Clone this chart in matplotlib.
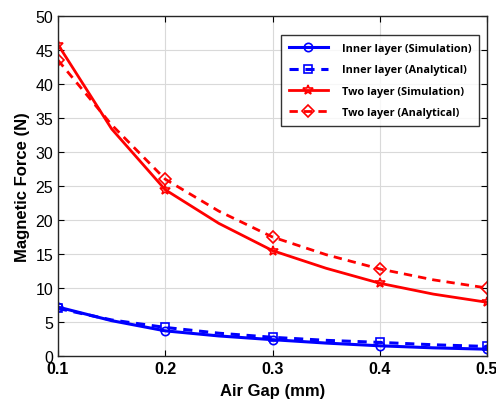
import numpy as np
import matplotlib.pyplot as plt

# air gap (mm); markers sit on the even indices (0.1 ... 0.5)
gap = [0.10, 0.15, 0.20, 0.25, 0.30, 0.35, 0.40, 0.45, 0.50]

inner_sim = [7.2, 5.2, 3.7, 2.95, 2.4, 1.9, 1.5, 1.2, 1.0]
inner_ana = [7.0, 5.3, 4.2, 3.35, 2.75, 2.3, 2.0, 1.65, 1.4]
two_sim = [45.8, 33.4, 24.45, 19.5, 15.5, 12.9, 10.7, 9.1, 7.9]
two_ana = [43.5, 34.0, 26.0, 21.3, 17.5, 14.9, 12.8, 11.2, 10.0]

labels = ['Inner layer (Simulation)', 'Inner layer (Analytical)',
          'Two layer (Simulation)', 'Two layer (Analytical)']

plt.rcParams['font.family'] = ['Liberation Sans', 'DejaVu Sans']

fig = plt.figure(figsize=(4.96, 4.06), dpi=100)
ax = fig.add_axes([58 / 496, 1 - 357 / 406, 429 / 496, 340 / 406])

ax.plot(gap, inner_sim, '-', color='#0000ff', lw=2.2, marker='o', ms=6,
        mfc='none', mew=1.2, markevery=2, label=labels[0])
ax.plot(gap, inner_ana, '--', color='#0000ff', lw=2.2, marker='s', ms=6,
        mfc='none', mew=1.2, markevery=2, label=labels[1], dashes=(3, 2.2))
ax.plot(gap, two_sim, '-', color='#ff0000', lw=2.0, marker='*', ms=7,
        mfc='none', mew=1.2, markevery=2, label=labels[2])
ax.plot(gap, two_ana, '--', color='#ff0000', lw=2.0, marker='D', ms=6,
        mfc='none', mew=1.2, markevery=2, label=labels[3], dashes=(3, 2.2))

ax.set_xlim(0.1, 0.5)
ax.set_ylim(0, 50)
ax.set_xticks([0.1, 0.2, 0.3, 0.4, 0.5])
ax.set_yticks(range(0, 51, 5))
ax.grid(True, color='#d9d9d9', lw=0.8)
ax.set_axisbelow(True)
ax.tick_params(direction='in', length=4, labelsize=11.5, width=0.8,
               top=True, right=True)
for lab in ax.get_xticklabels():
    lab.set_fontweight('bold')
for sp in ax.spines.values():
    sp.set_linewidth(1.0)
    sp.set_color('#262626')

ax.set_xlabel('Air Gap (mm)', fontsize=12, fontweight='bold', labelpad=5)
ax.set_ylabel('Magnetic Force (N)', fontsize=12, fontweight='bold', labelpad=4)

leg = ax.legend(loc='upper right', bbox_to_anchor=(0.995, 0.96),
                prop={'family': 'Open Sans', 'weight': 'bold', 'size': 7.8},
                frameon=True, fancybox=False, edgecolor='black',
                handlelength=3.6, borderpad=0.75, labelspacing=0.95,
                handletextpad=1.3)
leg.get_frame().set_linewidth(1.0)

plt.savefig('out.png', dpi=100)
plt.close()
